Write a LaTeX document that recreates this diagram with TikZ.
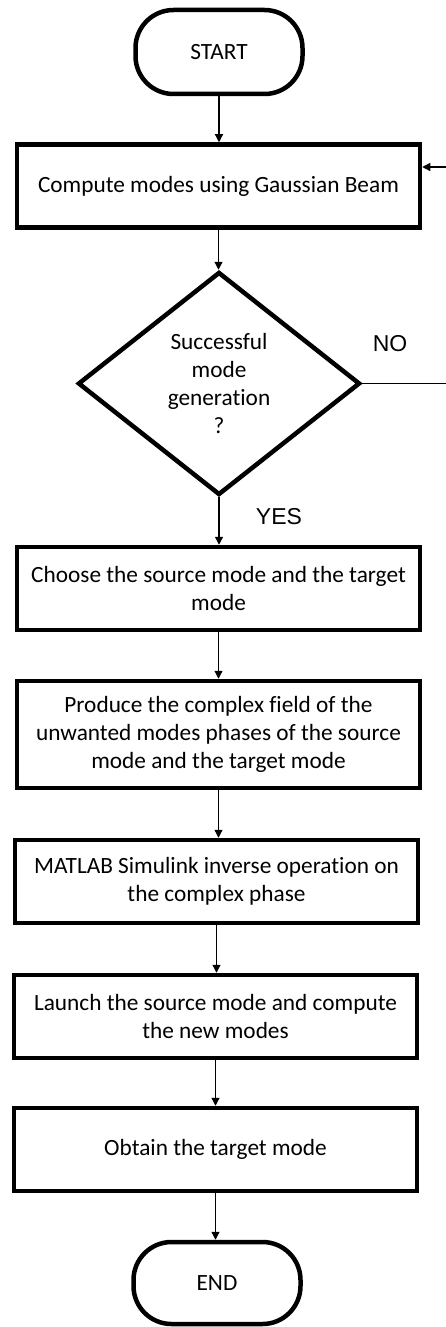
\documentclass[tikz,border=0pt]{standalone}
\usepackage{fontspec}
\setmainfont{Carlito}[Ligatures=NoCommon]
\newfontfamily\arialfont{Liberation Sans}
\usetikzlibrary{shapes.geometric,arrows.meta}
\begin{document}
\begin{tikzpicture}[x=1pt,y=-1pt,
  every node/.style={font=\fontsize{23.3}{28}\selectfont, align=center, inner sep=0pt},
  procbox/.style={draw, line width=4.5pt, rectangle, minimum width=403pt, minimum height=83pt},
  termbox/.style={draw, line width=4.5pt, rectangle, rounded corners=38pt, minimum width=167pt, minimum height=84pt},
  decbox/.style={draw, line width=4.5pt, diamond, aspect=1.26, minimum width=282pt, minimum height=223pt},
  conn/.style={line width=1.2pt, -{Triangle[length=8pt,width=8pt]}},
  plainconn/.style={line width=1.2pt},
  lbl/.style={font=\arialfont\fontsize{23}{26}\selectfont}
]
\useasboundingbox (0,0) rectangle (446,1327);
\fill[white] (0,0) rectangle (446,1327);

\node[termbox] (start) at (219,52) {START};
\node[procbox] (compute) at (218.5,186) {Compute modes using Gaussian Beam};
\node[decbox] (dec) at (219,383.5) {Successful\\mode\\generation\\?};
\node[procbox] (choose) at (218.5,588.5) {Choose the source mode and the target\\mode};
\node[procbox, minimum height=107pt] (produce) at (218.5,734.5) {Produce the complex field of the\\unwanted modes phases of the source\\mode and the target mode};
\node[procbox] (matlab) at (216.5,881.5) {MATLAB Simulink inverse operation on\\the complex phase};
\node[procbox] (launch) at (215.5,1016.5) {Launch the source mode and compute\\the new modes};
\node[procbox] (obtain) at (215.5,1149.5) {Obtain the target mode};
\node[termbox, minimum height=82pt] (end) at (217,1283) {END};

\node[lbl] (no) at (390,344) {NO};
\node[lbl] (yes) at (279,517) {YES};

\coordinate (r1) at (446,383.5);
\coordinate (r2) at (446,167);

\draw[conn] (start.south) -- (start.south |- compute.north);
\draw[conn] (compute.south) -- (compute.south |- dec.north);
\draw[conn] (dec.south) -- (dec.south |- choose.north);
\draw[conn] (choose.south) -- (choose.south |- produce.north);
\draw[conn] (produce.south) -- (produce.south |- matlab.north);
\draw[conn] (matlab.south) -- (matlab.south |- launch.north);
\draw[conn] (launch.south) -- (launch.south |- obtain.north);
\draw[conn] (obtain.south) -- (obtain.south |- end.north);
\draw[plainconn] (dec.east) -- (r1);
\draw[conn] (r2) -- (r2 -| compute.east);
\end{tikzpicture}
\end{document}
